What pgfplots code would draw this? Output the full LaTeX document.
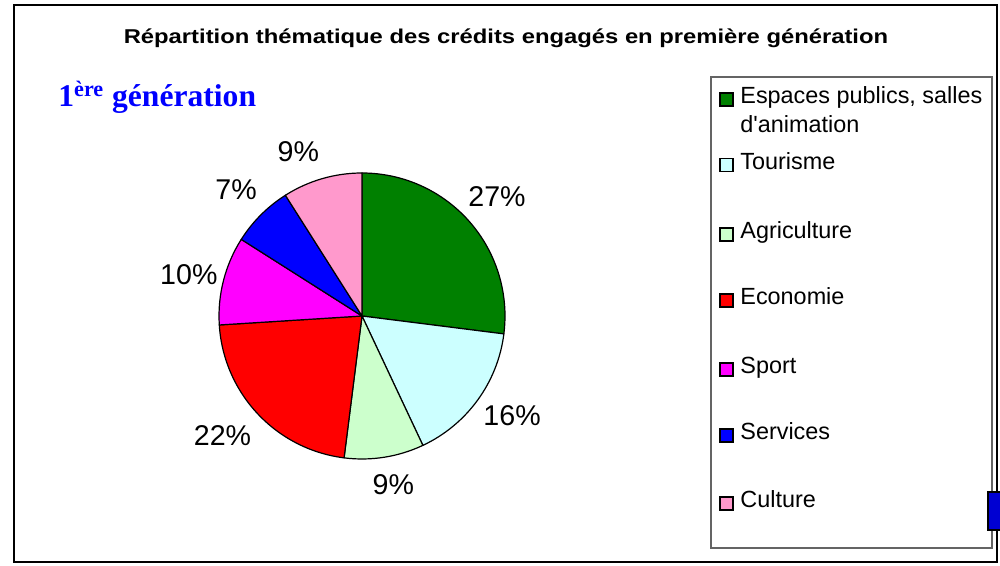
\documentclass[border=0pt]{standalone}
\usepackage{pgfplots}
\usepackage{pgfplotstable}
\pgfplotsset{compat=1.18}
\usepackage{fontspec}
\setmainfont{Liberation Sans}
\newfontfamily\rawsans[Ligatures=TeXOff]{Liberation Sans}
\newfontfamily\serifb{Liberation Serif}
\definecolor{c1}{RGB}{0,128,0}
\definecolor{c2}{RGB}{204,255,255}
\definecolor{c3}{RGB}{204,255,204}
\definecolor{c4}{RGB}{255,0,0}
\definecolor{c5}{RGB}{255,0,255}
\definecolor{c6}{RGB}{0,0,255}
\definecolor{c7}{RGB}{255,153,204}
\definecolor{legframe}{RGB}{100,100,100}
% value, colour, label angle shift (deg), label radius (pt)
\pgfplotstableread{
value col dang lrad
27 c1 0 90
16 c2 2.5 90
9 c3 1.5 86
22 c4 -2.5 92
10 c5 1 89
7 c6 0 89
9 c7 5 88
}\piedata

\newcommand{\legitem}[3]{%
  \filldraw[fill=#1, draw=black, line width=0.6pt] (axis cs:720,#2-6.5) rectangle (axis cs:733,#2+6.5);
  \node[anchor=base west, inner sep=0pt, font=\fontsize{11.7}{14.5}\selectfont] at (axis cs:740,#2-4.5) {#3};
}

\begin{document}
\begin{tikzpicture}
\begin{axis}[hide axis, scale only axis, width=500pt, height=283pt,
  xmin=0, xmax=1000, ymin=0, ymax=566, clip=false]
\coordinate (BL) at (axis cs:0,0);
\coordinate (TR) at (axis cs:1000,566);
\coordinate (C) at (axis cs:362,250);
% outer frame
\draw[line width=1.2pt] (axis cs:14,561) rectangle (axis cs:997,4);
% title
\node[anchor=base, inner sep=0pt, font=\fontsize{10}{12}\selectfont\bfseries] at (axis cs:506,522)
  {\scalebox{1.19}[1]{Répartition thématique des crédits engagés en première génération}};
% sub title
\node[anchor=base west, inner sep=0pt, text=blue, font=\serifb\bfseries\fontsize{15.8}{20}\selectfont] at (axis cs:58,459)
  {1\textsuperscript{ère} génération};
% legend frame
\draw[legframe, line width=0.6pt] (axis cs:711,489) rectangle (axis cs:992,18);
\legitem{c1}{466.5}{Espaces publics, salles}
\node[anchor=base west, inner sep=0pt, font=\rawsans\fontsize{11.7}{14.5}\selectfont] at (axis cs:740,433) {d'animation};
\legitem{c2}{401}{Tourisme}
\legitem{c3}{331.5}{Agriculture}
\legitem{c4}{265.5}{Economie}
\legitem{c5}{196.5}{Sport}
\legitem{c6}{130.5}{Services}
\legitem{c7}{62.5}{Culture}
% small blue block at right edge
\filldraw[fill={rgb,255:red,0;green,0;blue,210}, draw=black, line width=1pt] (axis cs:988,74) rectangle (axis cs:1004,36);
\end{axis}
\begin{scope}[shift={(C)}]
\pgfplotstablegetrowsof{\piedata}
\pgfmathtruncatemacro\nrows{\pgfplotsretval-1}
\gdef\angA{90}
\foreach \i in {0,...,\nrows}{
  \pgfplotstablegetelem{\i}{value}\of\piedata \let\sliceval\pgfplotsretval
  \pgfplotstablegetelem{\i}{col}\of\piedata \let\slicecol\pgfplotsretval
  \pgfplotstablegetelem{\i}{dang}\of\piedata \let\slicedang\pgfplotsretval
  \pgfplotstablegetelem{\i}{lrad}\of\piedata \let\slicelrad\pgfplotsretval
  \pgfmathsetmacro\angB{\angA-3.6*\sliceval}
  \pgfmathsetmacro\angM{(\angA+\angB)/2+\slicedang}
  \filldraw[fill=\slicecol, draw=black, line width=0.6pt, line join=round]
    (0,0) -- (\angA:71.5pt) arc[start angle=\angA, end angle=\angB, radius=71.5pt] -- cycle;
  \node[font=\fontsize{14.3}{16}\selectfont] at (\angM:\slicelrad pt) {\sliceval\%};
  \xdef\angA{\angB}
}
\end{scope}
\pgfresetboundingbox
\path[use as bounding box] (BL) rectangle (TR);
\end{tikzpicture}
\end{document}
